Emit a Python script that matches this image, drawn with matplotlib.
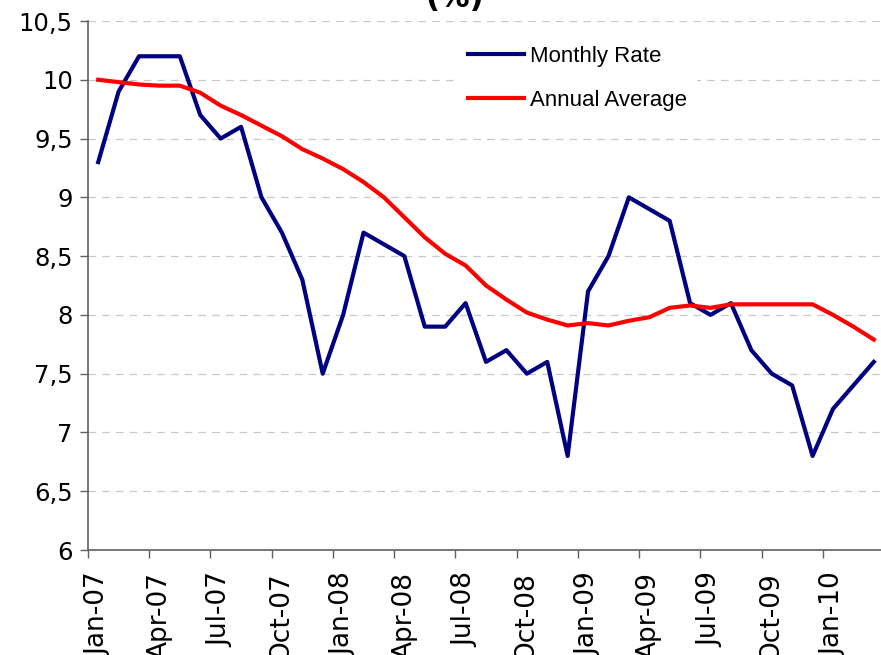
import matplotlib.pyplot as plt
from matplotlib.ticker import FixedLocator, MultipleLocator, FuncFormatter

# monthly observations, Jan-07 .. Mar-10
months = ["Jan-07", "Feb-07", "Mar-07", "Apr-07", "May-07", "Jun-07", "Jul-07", "Aug-07",
          "Sep-07", "Oct-07", "Nov-07", "Dec-07", "Jan-08", "Feb-08", "Mar-08", "Apr-08",
          "May-08", "Jun-08", "Jul-08", "Aug-08", "Sep-08", "Oct-08", "Nov-08", "Dec-08",
          "Jan-09", "Feb-09", "Mar-09", "Apr-09", "May-09", "Jun-09", "Jul-09", "Aug-09",
          "Sep-09", "Oct-09", "Nov-09", "Dec-09", "Jan-10", "Feb-10", "Mar-10"]

monthly_rate = [9.3, 9.9, 10.2, 10.2, 10.2, 9.7, 9.5, 9.6, 9.0, 8.7, 8.3, 7.5, 8.0,
                8.7, 8.6, 8.5, 7.9, 7.9, 8.1, 7.6, 7.7, 7.5, 7.6, 6.8, 8.2, 8.5,
                9.0, 8.9, 8.8, 8.1, 8.0, 8.1, 7.7, 7.5, 7.4, 6.8, 7.2, 7.4, 7.6]

annual_average = [10.0, 9.98, 9.96, 9.95, 9.95, 9.89, 9.78, 9.70, 9.61, 9.52, 9.41,
                  9.33, 9.24, 9.13, 9.0, 8.83, 8.66, 8.52, 8.42, 8.25, 8.13, 8.02,
                  7.96, 7.91, 7.93, 7.91, 7.95, 7.98, 8.06, 8.08, 8.06, 8.09, 8.09,
                  8.09, 8.09, 8.09, 8.0, 7.9, 7.79]

W, H = 881, 655
fig = plt.figure(figsize=(W / 100, H / 100), dpi=100)
ax = fig.add_axes([88 / W, 105 / H, 796 / W, 529 / H])

x = list(range(len(months)))
ax.plot(x, monthly_rate, color="#000080", lw=3.0, label="Monthly Rate")
ax.plot(x, annual_average, color="#FF0000", lw=3.0, label="Annual Average")

ax.set_xlim(-0.5, len(months) - 0.5)
ax.set_ylim(6, 10.5)

# y axis
ax.yaxis.set_major_locator(MultipleLocator(0.5))
ax.yaxis.set_major_formatter(FuncFormatter(lambda v, p: f"{v:g}".replace(".", ",")))
ax.grid(axis="y", color="#c8c8c8", linestyle=(0, (6, 5)), lw=0.9)
ax.set_axisbelow(True)

# x axis: ticks between categories, labels every 3rd month
ax.xaxis.set_major_locator(FixedLocator([i - 0.5 for i in range(0, len(months), 3)]))
ax.xaxis.set_major_formatter(FuncFormatter(lambda v, p: ""))
ax.xaxis.set_minor_locator(FixedLocator(list(range(0, len(months), 3))))
ax.set_xticklabels([months[i] for i in range(0, len(months), 3)], minor=True, rotation=90)
ax.tick_params(axis="x", which="minor", length=0, pad=16)
ax.tick_params(axis="both", which="major", length=6, width=1, color="#606060", direction="out")
for lbl in ax.get_xticklabels(minor=True):
    lbl.set_fontfamily("DejaVu Sans")
    lbl.set_fontsize(19)
for lbl in ax.get_yticklabels():
    lbl.set_fontfamily("DejaVu Sans")
    lbl.set_fontsize(17.5)
ax.tick_params(axis="y", pad=5)

for side in ["top", "right"]:
    ax.spines[side].set_visible(False)
for side in ["left", "bottom"]:
    ax.spines[side].set_color("#606060")
    ax.spines[side].set_linewidth(1.2)

leg = fig.legend(loc="upper left", bbox_to_anchor=(458 / W, 1 - 36 / H), frameon=True,
                 prop={"family": "Liberation Sans", "size": 16}, handlelength=2.5,
                 handletextpad=0.3, labelspacing=1.03, borderpad=0.45, borderaxespad=0)
leg.get_frame().set_edgecolor("none")
leg.get_frame().set_facecolor("white")
leg.get_frame().set_alpha(1)

fig.text(455 / W, 1 - 13 / H, "(%)", ha="center", va="bottom", fontsize=22,
         fontweight="bold", fontfamily="DejaVu Sans")

fig.savefig("out.png", dpi=100)
